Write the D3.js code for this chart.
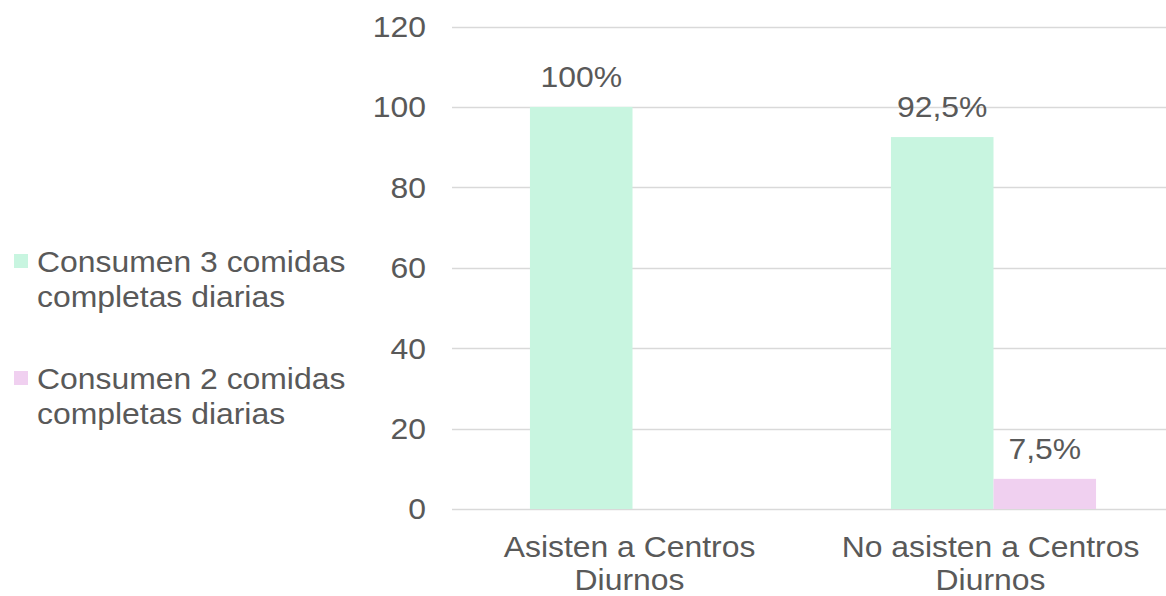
<!DOCTYPE html>
<html>
<head>
<meta charset="utf-8">
<script src="https://cdn.jsdelivr.net/npm/d3@7"></script>
<style>
  body { margin: 0; background: #fff; }
  svg { display: block; font-family: "Liberation Sans", Arial, sans-serif; }
</style>
</head>
<body>
<svg id="chart"></svg>
<script>
const categories = [["Asisten a Centros", "Diurnos"], ["No asisten a Centros", "Diurnos"]];
const seriesNames = [["Consumen 3 comidas", "completas diarias"], ["Consumen 2 comidas", "completas diarias"]];
const threeMeals = [100, 92.5];
const twoMeals = [0, 7.5];
const valueLabels = [["100%", "92,5%"], [null, "7,5%"]];
const yTicks = [0, 20, 40, 60, 80, 100, 120];
const colors = ["#c8f5e0", "#f0d0f0"];

const width = 1166, height = 596;
const textColor = "#595959";
const fontSize = 29;
const stretch = 1.1; // reference text is a bit wider than Liberation Sans

const svg = d3.select("#chart").attr("width", width).attr("height", height);

const y = d3.scaleLinear().domain([0, 120]).range([509, 26.5]);
const catKeys = categories.map(c => c.join(" "));
const x0 = d3.scaleBand().domain(catKeys).range([452, 1174]);
const x1 = d3.scaleBand().domain([0, 1]).range([0, x0.bandwidth()])
  .paddingInner(0).paddingOuter(0.76);

const place = (px, py) => `translate(${px},${py}) scale(${stretch},1)`;

// gridlines
svg.append("g")
  .selectAll("line")
  .data(yTicks)
  .enter()
  .append("line")
  .attr("x1", 452)
  .attr("x2", width)
  .attr("y1", d => Math.round(y(d)) + 0.5)
  .attr("y2", d => Math.round(y(d)) + 0.5)
  .attr("stroke", "#d9d9d9")
  .attr("stroke-width", 1.5);

// y labels
svg.append("g")
  .selectAll("text")
  .data(yTicks)
  .enter()
  .append("text")
  .attr("transform", d => place(426, y(d)))
  .attr("dy", "0.36em")
  .attr("text-anchor", "end")
  .attr("font-size", fontSize)
  .attr("fill", textColor)
  .text(d => d);

const series = [threeMeals, twoMeals];
const bars = [];
series.forEach((vals, s) => {
  vals.forEach((v, i) => bars.push({ s, i, v, label: valueLabels[s][i] }));
});

svg.append("g")
  .selectAll("rect")
  .data(bars.filter(d => d.v > 0))
  .enter()
  .append("rect")
  .attr("x", d => x0(catKeys[d.i]) + x1(d.s))
  .attr("width", x1.bandwidth())
  .attr("y", d => y(d.v))
  .attr("height", d => y(0) - y(d.v))
  .attr("fill", d => colors[d.s]);

// value labels
svg.append("g")
  .selectAll("text")
  .data(bars.filter(d => d.label))
  .enter()
  .append("text")
  .attr("transform", d => place(x0(catKeys[d.i]) + x1(d.s) + x1.bandwidth() / 2, y(d.v) - 20))
  .attr("text-anchor", "middle")
  .attr("font-size", fontSize)
  .attr("fill", textColor)
  .text(d => d.label);

// category labels
const catG = svg.append("g")
  .selectAll("text")
  .data(categories)
  .enter()
  .append("text")
  .attr("transform", (d, i) => place(x0(catKeys[i]) + x1(0) + x1.bandwidth() - 3, 557))
  .attr("text-anchor", "middle")
  .attr("font-size", fontSize)
  .attr("fill", textColor);
catG.selectAll("tspan")
  .data(d => d)
  .enter()
  .append("tspan")
  .attr("x", 0)
  .attr("y", (d, j) => j * 33)
  .text(d => d);

// legend
const legend = svg.append("g")
  .selectAll("g")
  .data(seriesNames)
  .enter()
  .append("g")
  .attr("transform", (d, i) => `translate(0, ${i * 117})`);

legend.append("rect")
  .attr("x", 14)
  .attr("y", 254)
  .attr("width", 14)
  .attr("height", 14)
  .attr("fill", (d, i) => colors[i]);

legend.append("text")
  .attr("transform", place(37, 272))
  .attr("font-size", fontSize)
  .attr("fill", textColor)
  .selectAll("tspan")
  .data(d => d)
  .enter()
  .append("tspan")
  .attr("x", 0)
  .attr("y", (d, j) => j * 35)
  .text(d => d);
</script>
</body>
</html>
